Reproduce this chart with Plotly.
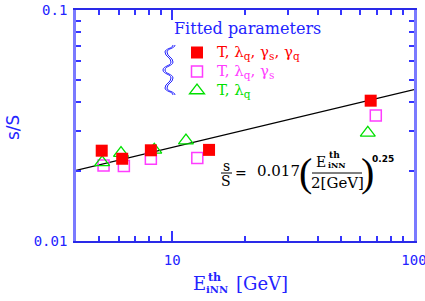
import math
import plotly.graph_objects as go

# ---- data ----
fit_x = [4.0, 100.0]
fit_y = [0.0202, 0.0452]

red_x = [5.11, 6.21, 8.16, 14.2, 66.2]
red_y = [0.0246, 0.0227, 0.0247, 0.0248, 0.0405]

mag_x = [5.20, 6.31, 8.16, 12.7, 69.5]
mag_y = [0.0212, 0.0211, 0.0227, 0.0229, 0.0349]

grn_x = [5.13, 6.14, 8.43, 11.4, 64.4]
grn_y = [0.0219, 0.0240, 0.0248, 0.0272, 0.0294]

x_range = [4.0, 100.0]
y_range = [0.01, 0.1]

x_major = [10, 100]
x_minor = [5, 6, 7, 8, 9, 20, 30, 40, 50, 60, 70, 80, 90]
y_major = [0.01, 0.1]
y_minor = [0.02, 0.03, 0.04, 0.05, 0.06, 0.07, 0.08, 0.09]

# ---- style ----
BLUE_TXT = "#2323ff"
BLUE_X = "#2a2ae8"
BLUE_Y = "#7a7aff"
BLUE_TICK = "#3535ff"
RED = "#ff0000"
MAG = "#ff3cff"
GRN = "#00e000"
SERIF = "DejaVu Serif"
SANS = "DejaVu Sans"
MONO = "DejaVu Sans Mono"

W, H = 425, 301
L, R, T, B = 76, 11, 10, 60
PW, PH = W - L - R, H - T - B


def px(x):
    return (x - L) / PW


def py(y):
    return (H - B - y) / PH


def lab(s, color):
    return '<span style="color:%s;font-size:15px">%s</span>' % (color, s)


fig = go.Figure()

fig.add_trace(go.Scatter(x=fit_x, y=fit_y, mode="lines",
                         line=dict(color="black", width=1.3),
                         showlegend=False, hoverinfo="skip"))
fig.add_trace(go.Scatter(x=mag_x, y=mag_y, mode="markers",
                         marker=dict(symbol="square-open", size=11, color=MAG,
                                     line=dict(width=1.5, color=MAG)),
                         name=lab("T, λ<sub>q</sub>, γ<sub>s</sub>", MAG),
                         legendrank=2))
fig.add_trace(go.Scatter(x=grn_x, y=grn_y, mode="markers",
                         marker=dict(symbol="triangle-up-open", size=13, color=GRN,
                                     line=dict(width=1.3, color=GRN)),
                         name=lab("T, λ<sub>q</sub>", GRN),
                         legendrank=3))
fig.add_trace(go.Scatter(x=red_x, y=red_y, mode="markers",
                         marker=dict(symbol="square", size=12, color=RED,
                                     line=dict(width=0)),
                         name=lab("T, λ<sub>q</sub>, γ<sub>s</sub>, γ<sub>q</sub>", RED),
                         legendrank=1))

axis_common = dict(
    type="log", showgrid=False, zeroline=False, automargin=False,
    showline=True, mirror="allticks",
    ticks="inside", ticklen=10, tickwidth=1.5, tickcolor=BLUE_TICK,
    tickmode="array",
    tickfont=dict(family=MONO, size=14, color=BLUE_TXT),
    ticklabeloverflow="allow",
)

fig.update_xaxes(range=[math.log10(x_range[0]), math.log10(x_range[1])],
                 tickvals=x_major, ticktext=[str(v) for v in x_major],
                 linecolor=BLUE_X, linewidth=1.6,
                 minor=dict(ticks="inside", ticklen=5, tickwidth=1.5, tickcolor=BLUE_TICK,
                            tickmode="array", tickvals=x_minor, showgrid=False),
                 ticklabelstandoff=5, **axis_common)
fig.update_yaxes(range=[math.log10(y_range[0]), math.log10(y_range[1])],
                 tickvals=y_major, ticktext=[str(v) for v in y_major],
                 linecolor=BLUE_Y, linewidth=2.6,
                 minor=dict(ticks="inside", ticklen=5, tickwidth=1.5, tickcolor=BLUE_TICK,
                            tickmode="array", tickvals=y_minor, showgrid=False),
                 ticklabelstandoff=3, **axis_common)

ann = []
shapes = []


def text(x, y, s, size, color="black", family=SERIF, **kw):
    ann.append(dict(x=px(x), y=py(y), xref="paper", yref="paper", text=s,
                    showarrow=False, font=dict(family=family, size=size, color=color),
                    xanchor=kw.pop("xanchor", "center"), yanchor=kw.pop("yanchor", "middle"), **kw))


def hline(x0, x1, y, color="black", width=1):
    shapes.append(dict(type="line", xref="paper", yref="paper",
                       x0=px(x0), x1=px(x1), y0=py(y), y1=py(y),
                       line=dict(color=color, width=width)))


# legend title and brace
text(172, 28, "Fitted parameters", 16, BLUE_TXT, xanchor="left")
for off in (0, 2):
    pts = [(173, 45), (165, 52), (171, 62), (163, 70), (171, 78), (165, 88), (173, 95)]
    p = "M %f,%f" % (px(pts[0][0] + off), py(pts[0][1]))
    for i in range(1, len(pts)):
        x0, y0 = pts[i - 1]
        x1, y1 = pts[i]
        ym = (y0 + y1) / 2
        p += " C %f,%f %f,%f %f,%f" % (px(x0 + off), py(ym), px(x1 + off), py(ym),
                                       px(x1 + off), py(y1))
    shapes.append(dict(type="path", xref="paper", yref="paper", path=p,
                       line=dict(color=BLUE_TXT, width=1)))

# formula  s/S = 0.017 ( E_iNN^th / 2[GeV] )^0.25
text(226, 166, "s", 14)
hline(221, 232, 173)
text(226, 181, "S", 14)
text(241, 173, "=", 14)
text(278, 171, "0.017", 15)
text(305, 172, "(", 40, family="Liberation Serif")
text(321, 162, "E", 14)
text(334, 155, "<b>th</b>", 9)
text(337, 165, "<b>iNN</b>", 8)
hline(312, 362, 173)
text(337, 183, "2[GeV]", 15)
text(367, 172, ")", 40, family="Liberation Serif")
text(383, 159, "<b>0.25</b>", 9, family=SANS)

# x axis title
text(199, 283, "E", 18, BLUE_TXT)
text(214, 277, "<b>th</b>", 11, BLUE_TXT)
text(217, 289, "<b>iNN</b>", 10, BLUE_TXT)
text(262, 283, "[GeV]", 18, BLUE_TXT)

# y axis title
text(13, 128, "s/S", 17, BLUE_TXT, family=SANS, textangle=-90)

fig.update_layout(
    width=W, height=H,
    margin=dict(l=L, r=R, t=T, b=B, pad=0),
    plot_bgcolor="white", paper_bgcolor="white",
    annotations=ann, shapes=shapes,
    showlegend=True,
    legend=dict(x=px(177), y=py(38), xanchor="left", yanchor="top",
                bgcolor="rgba(0,0,0,0)", borderwidth=0,
                font=dict(family=SERIF, size=11, color="black"),
                tracegroupgap=0, itemwidth=30),
)

fig.write_html("out.html", config={"displayModeBar": False},
               post_script="document.body.style.margin='0';")
